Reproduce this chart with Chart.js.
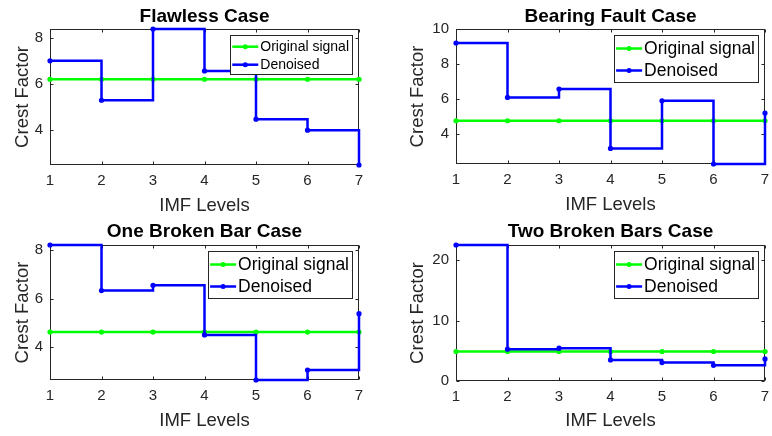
<!DOCTYPE html>
<html><head><meta charset="utf-8">
<script src="https://cdn.jsdelivr.net/npm/chart.js@4.4.1/dist/chart.umd.min.js"></script>
<style>
html,body{margin:0;padding:0;background:#fff;}
#wrap{position:relative;width:772px;height:436px;overflow:hidden;background:#fff;}
.p{position:absolute;width:386px;height:218px;}
canvas{display:block;}
</style></head><body>
<div id="wrap">
<div class="p" style="left:0;top:0"><canvas id="c0" width="386" height="218"></canvas></div>
<div class="p" style="left:386px;top:0"><canvas id="c1" width="386" height="218"></canvas></div>
<div class="p" style="left:0;top:218px"><canvas id="c2" width="386" height="218"></canvas></div>
<div class="p" style="left:386px;top:218px"><canvas id="c3" width="386" height="218"></canvas></div>
</div>
<script>
// ---- data ----
const levels = [1, 2, 3, 4, 5, 6, 7];
const panelTitles = ['Flawless Case', 'Bearing Fault Case', 'One Broken Bar Case', 'Two Broken Bars Case'];
const seriesNames = ['Original signal', 'Denoised'];
const xTitle = 'IMF Levels';
const yTitle = 'Crest Factor';

const flawlessOriginal = [6.2, 6.2, 6.2, 6.2, 6.2, 6.2, 6.2];
const flawlessDenoised = [7.0, 5.29, 8.38, 6.56, 4.47, 3.99, 2.48];
const bearingOriginal = [4.76, 4.76, 4.76, 4.76, 4.76, 4.76, 4.76];
const bearingDenoised = [9.2, 6.09, 6.57, 3.18, 5.9, 2.29, 5.2];
const oneBarOriginal = [4.61, 4.61, 4.61, 4.61, 4.61, 4.61, 4.61];
const oneBarDenoised = [8.22, 6.33, 6.55, 4.49, 2.62, 3.03, 5.37];
const twoBarsOriginal = [4.88, 4.88, 4.88, 4.88, 4.88, 4.88, 4.88];
const twoBarsDenoised = [22.5, 5.27, 5.43, 3.49, 3.05, 2.6, 3.65];

const yMin = [2.48, 2.29, 2.62, 0];
const yMax = [8.38, 10, 8.22, 22.5];
const yStep = [2, 2, 2, 10];

// ---- styling / layout ----
const FONT = '"Liberation Sans", Arial, Helvetica, sans-serif';
Chart.defaults.font.family = FONT;
const AXIS = '#262626';

const layouts = [
  {yw: 50, ytp: 11.4, xh: 53, xpb: 1.4, pr: 27, pt: 29, tOff: 12, lf: 14, lrow0: 11.7, lsp: 18, lh: 39},
  {yw: 70, ytp: 20.9, xh: 54, xpb: 1.9, pr: 7, pt: 29, tOff: 12.5, lf: 17.5, lrow0: 13.5, lsp: 22, lh: 47},
  {yw: 50, ytp: 11.4, xh: 56, xpb: 3.6, pr: 27, pt: 27, tOff: 13, lf: 17.5, lrow0: 13.5, lsp: 22, lh: 47},
  {yw: 70, ytp: 21.2, xh: 55, xpb: 3.6, pr: 7, pt: 27, tOff: 13, lf: 17.5, lrow0: 13.5, lsp: 22, lh: 47}
];

const frameAndLegend = {
  id: 'frameAndLegend',
  beforeDatasetsDraw(chart) {
    const {ctx, chartArea: a, scales: {x, y}} = chart;
    ctx.save();
    ctx.strokeStyle = AXIS; ctx.lineWidth = 1;
    const L = Math.round(a.left) + 0.5, R = Math.round(a.right) - 0.5;
    const T = Math.round(a.top) + 0.5, B = Math.round(a.bottom) - 0.5;
    ctx.strokeRect(L, T, R - L, B - T);
    const tl = 3;
    ctx.beginPath();
    x.ticks.forEach(t => {
      const px = Math.round(x.getPixelForValue(t.value)) + 0.5;
      ctx.moveTo(px, B); ctx.lineTo(px, B - tl);
      ctx.moveTo(px, T); ctx.lineTo(px, T + tl);
    });
    y.ticks.forEach(t => {
      const py = Math.round(y.getPixelForValue(t.value)) + 0.5;
      ctx.moveTo(L, py); ctx.lineTo(L + tl, py);
      ctx.moveTo(R, py); ctx.lineTo(R - tl, py);
    });
    ctx.stroke();
    ctx.restore();
  },
  afterDatasetsDraw(chart, args, opts) {
    const {ctx, chartArea: a} = chart;
    const ds = chart.data.datasets;
    ctx.save();
    // title centred over the plot area
    ctx.font = 'bold 19px ' + FONT;
    ctx.fillStyle = '#000';
    ctx.textAlign = 'center'; ctx.textBaseline = 'middle';
    ctx.fillText(opts.title, (a.left + a.right) / 2, a.top - opts.tOff);
    // legend
    ctx.font = opts.fontSize + 'px ' + FONT;
    const tw = Math.max(...ds.map(d => ctx.measureText(d.label).width));
    const padL = 2, lineLen = 26, gap = 2, padR = 3;
    const w = padL + lineLen + gap + tw + padR;
    const right = Math.round(a.right) - 7;
    const left = right - w;
    const top = Math.round(a.top) + 6;
    ctx.fillStyle = '#fff';
    ctx.fillRect(left, top, w, opts.h);
    ctx.strokeStyle = AXIS; ctx.lineWidth = 1;
    ctx.strokeRect(Math.round(left) + 0.5, top + 0.5, Math.round(w), opts.h);
    ds.forEach((d, i) => {
      const cy = top + opts.row0 + i * opts.sp;
      const x0 = left + padL;
      ctx.strokeStyle = d.borderColor; ctx.lineWidth = 2.5;
      ctx.beginPath(); ctx.moveTo(x0, cy); ctx.lineTo(x0 + lineLen, cy); ctx.stroke();
      ctx.fillStyle = d.borderColor;
      ctx.beginPath(); ctx.arc(x0 + lineLen / 2, cy, 2.5, 0, Math.PI * 2); ctx.fill();
      ctx.fillStyle = '#000';
      ctx.textBaseline = 'middle'; ctx.textAlign = 'left';
      ctx.fillText(d.label, x0 + lineLen + gap, cy + 0.5);
    });
    ctx.restore();
  }
};

const panels = [
  [flawlessOriginal, flawlessDenoised],
  [bearingOriginal, bearingDenoised],
  [oneBarOriginal, oneBarDenoised],
  [twoBarsOriginal, twoBarsDenoised]
];

function makeDataset(label, values, color, order) {
  return {
    label: label,
    data: levels.map((lv, i) => ({x: lv, y: values[i]})),
    borderColor: color,
    backgroundColor: color,
    borderWidth: 2.5,
    pointRadius: 2.6,
    pointBorderWidth: 0,
    pointHoverRadius: 2.6,
    stepped: true,
    clip: false,
    order: order
  };
}

panels.forEach((series, p) => {
  const lay = layouts[p];
  new Chart(document.getElementById('c' + p), {
    type: 'line',
    data: {
      datasets: [
        makeDataset(seriesNames[0], series[0], '#00ff00', 1),
        makeDataset(seriesNames[1], series[1], '#0000ff', 0)
      ]
    },
    options: {
      responsive: false,
      animation: false,
      devicePixelRatio: 1,
      events: [],
      layout: {padding: {left: 0, right: lay.pr, top: lay.pt, bottom: 0}},
      plugins: {
        legend: {display: false},
        tooltip: {enabled: false},
        title: {display: false},
        frameAndLegend: {title: panelTitles[p], tOff: lay.tOff, fontSize: lay.lf, row0: lay.lrow0, sp: lay.lsp, h: lay.lh}
      },
      scales: {
        x: {
          type: 'linear', min: levels[0], max: levels[levels.length - 1],
          grid: {display: false, drawTicks: false},
          border: {display: false},
          ticks: {stepSize: 1, padding: 7, color: AXIS, font: {size: 15}, maxRotation: 0, autoSkip: false},
          title: {display: true, text: xTitle, color: AXIS, font: {size: 18.5}, padding: {top: 0, bottom: lay.xpb}},
          afterFit: s => { s.height = lay.xh; s.paddingLeft = 0; s.paddingRight = 0; }
        },
        y: {
          type: 'linear', min: yMin[p], max: yMax[p],
          grid: {display: false, drawTicks: false},
          border: {display: false},
          ticks: {stepSize: yStep[p], includeBounds: false, padding: 7, color: AXIS, font: {size: 15}},
          title: {display: true, text: yTitle, color: AXIS, font: {size: 18.5}, padding: {top: lay.ytp, bottom: 0}},
          afterFit: s => { s.width = lay.yw; }
        }
      }
    },
    plugins: [frameAndLegend]
  });
});
</script>
</body></html>
